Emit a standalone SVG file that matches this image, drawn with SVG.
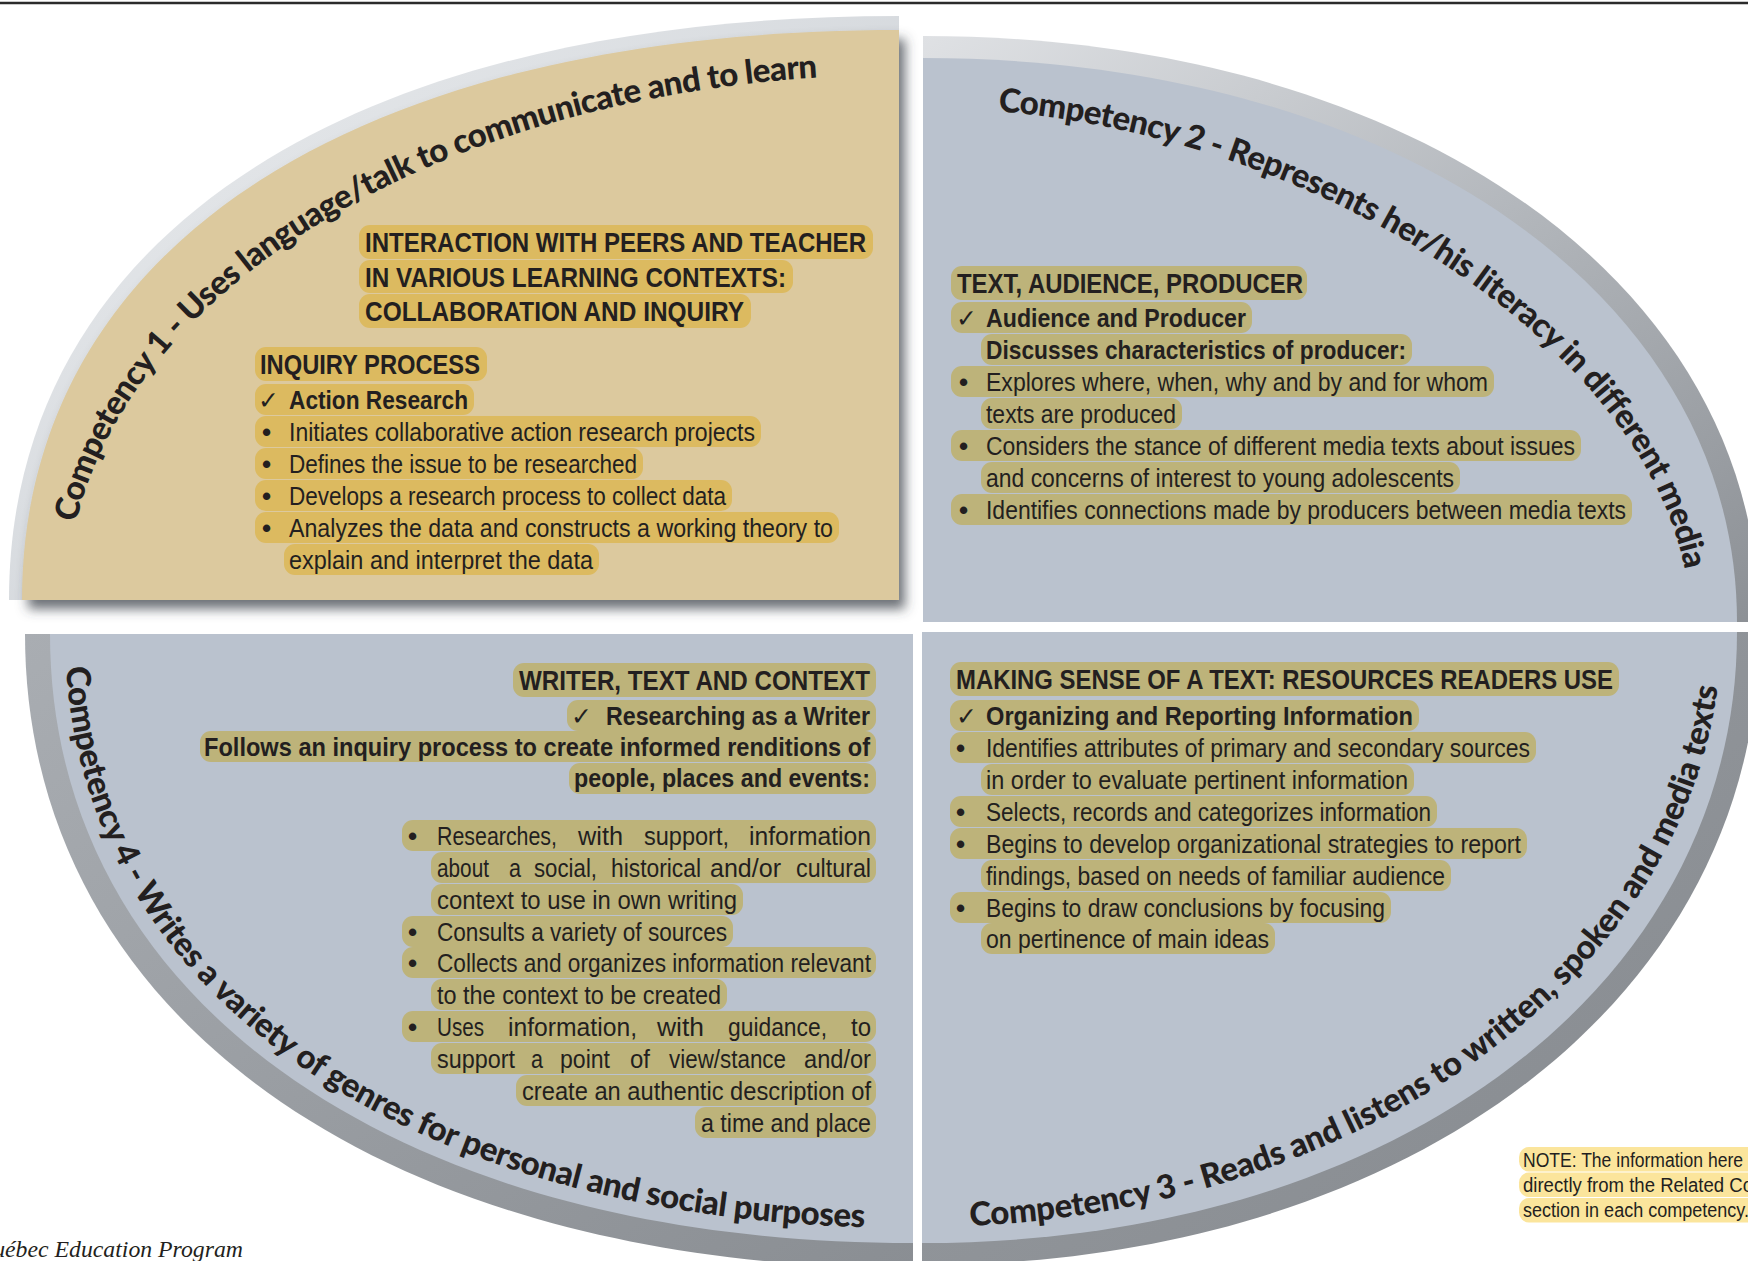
<svg xmlns="http://www.w3.org/2000/svg" xmlns:xlink="http://www.w3.org/1999/xlink" width="1748" height="1261" viewBox="0 0 1748 1261">
<defs>
<style>
.t{font-family:"Liberation Sans Narrow","Liberation Sans",Arial,sans-serif;font-size:26px;fill:#231f20}
.tb{font-weight:bold}
.cap{font-size:28px;font-weight:bold}
.ck{font-family:"DejaVu Sans",sans-serif;font-size:25px;font-weight:normal}
.bu{font-family:"Liberation Sans",Arial,sans-serif;font-weight:bold}
.cv{font-family:Lato,"Open Sans",sans-serif;font-weight:900;font-size:33px;fill:#231f20}
.hb{fill:#bdb37a}
.ht{fill:#dcba60}
.blue{fill:#bac2ce}
</style>
<linearGradient id="gUR" x1="0" y1="0" x2="1" y2="1">
<stop offset="0" stop-color="#dfe1e4"/><stop offset="0.5" stop-color="#b3b7bc"/><stop offset="1" stop-color="#8c9095"/>
</linearGradient>
<linearGradient id="gLR" x1="0" y1="0" x2="1" y2="1">
<stop offset="0" stop-color="#9a9ea3"/><stop offset="1" stop-color="#85898e"/>
</linearGradient>
<linearGradient id="gLL" x1="0" y1="0" x2="1" y2="1">
<stop offset="0" stop-color="#a9adb2"/><stop offset="1" stop-color="#8a8e93"/>
</linearGradient>
<linearGradient id="gUL" x1="0" y1="0" x2="1" y2="1">
<stop offset="0" stop-color="#eceef0"/><stop offset="1" stop-color="#c3c8ce"/>
</linearGradient>
<filter id="sh" x="-5%" y="-5%" width="115%" height="115%">
<feGaussianBlur in="SourceAlpha" stdDeviation="6"/>
<feOffset dx="6" dy="9" result="o"/>
<feFlood flood-color="#3c424a" flood-opacity="0.75"/>
<feComposite in2="o" operator="in"/>
<feMerge><feMergeNode/><feMergeNode in="SourceGraphic"/></feMerge>
</filter>
<path id="p1" d="M 67 600 A 832 525 0 0 1 899 75"/>
<path id="p2" d="M 923 108 C 1306.5 108 1690 365 1690 622"/>
<path id="p3" d="M 922 1227 A 799 595 0 0 0 1721 632"/>
<path id="p4" d="M 65 634 C 65 990.4 404.2 1228 913 1228"/>
</defs>
<rect width="1748" height="1261" fill="#ffffff"/>
<line x1="0" y1="3" x2="1748" y2="3" stroke="#2b2b2b" stroke-width="2.5"/>

<g id="competency2">
<path d="M 923 622 L 923 36 C 1408 36 1759 282 1759 622 Z" fill="url(#gUR)"/>
<path class="blue" d="M 923 622 L 923 58 C 1395 58 1737 295 1737 622 Z"/>
<text class="cv"><textPath href="#p2" startOffset="75" textLength="875">Competency 2 - Represents her/his literacy in different media</textPath></text>
<rect class="hb" x="951" y="266" width="356" height="34" rx="11"/>
<rect class="hb" x="951" y="302" width="301" height="31" rx="11"/>
<rect class="hb" x="981" y="334" width="431" height="31" rx="11"/>
<rect class="hb" x="951" y="366" width="543" height="31" rx="11"/>
<rect class="hb" x="981" y="398" width="201" height="31" rx="11"/>
<rect class="hb" x="951" y="430" width="630" height="31" rx="11"/>
<rect class="hb" x="981" y="462" width="479" height="31" rx="11"/>
<rect class="hb" x="951" y="494" width="681" height="31" rx="11"/>
<text class="t cap" x="957" y="293" textLength="346" lengthAdjust="spacingAndGlyphs">TEXT, AUDIENCE, PRODUCER</text>
<text class="t tb" y="327"><tspan class="ck" x="956">✓</tspan><tspan x="986" textLength="260" lengthAdjust="spacingAndGlyphs">Audience and Producer</tspan></text>
<text class="t tb" x="986" y="359" textLength="420" lengthAdjust="spacingAndGlyphs">Discusses characteristics of producer:</text>
<text class="t" y="391"><tspan class="bu" x="959">•</tspan><tspan x="986" textLength="502" lengthAdjust="spacingAndGlyphs">Explores where, when, why and by and for whom</tspan></text>
<text class="t" x="986" y="423" textLength="190" lengthAdjust="spacingAndGlyphs">texts are produced</text>
<text class="t" y="455"><tspan class="bu" x="959">•</tspan><tspan x="986" textLength="589" lengthAdjust="spacingAndGlyphs">Considers the stance of different media texts about issues</tspan></text>
<text class="t" x="986" y="487" textLength="468" lengthAdjust="spacingAndGlyphs">and concerns of interest to young adolescents</text>
<text class="t" y="519"><tspan class="bu" x="959">•</tspan><tspan x="986" textLength="640" lengthAdjust="spacingAndGlyphs">Identifies connections made by producers between media texts</tspan></text>
</g>

<g id="competency3">
<path d="M 922 632 L 1759 632 C 1759 999 1407 1265 922 1265 Z" fill="url(#gLR)"/>
<path class="blue" d="M 922 632 L 1737 632 C 1737 986 1395 1243 922 1243 Z"/>
<text class="cv"><textPath href="#p3" startOffset="48" textLength="998">Competency 3 - Reads and listens to written, spoken and media texts</textPath></text>
<rect class="hb" x="950" y="662" width="669" height="34" rx="11"/>
<rect class="hb" x="950" y="700" width="469" height="31" rx="11"/>
<rect class="hb" x="950" y="732" width="586" height="31" rx="11"/>
<rect class="hb" x="981" y="764" width="433" height="31" rx="11"/>
<rect class="hb" x="950" y="796" width="487" height="31" rx="11"/>
<rect class="hb" x="950" y="828" width="577" height="31" rx="11"/>
<rect class="hb" x="981" y="860" width="470" height="31" rx="11"/>
<rect class="hb" x="950" y="892" width="441" height="31" rx="11"/>
<rect class="hb" x="981" y="923" width="294" height="31" rx="11"/>
<text class="t cap" x="956" y="689" textLength="657" lengthAdjust="spacingAndGlyphs">MAKING SENSE OF A TEXT: RESOURCES READERS USE</text>
<text class="t tb" y="725"><tspan class="ck" x="956">✓</tspan><tspan x="986" textLength="427" lengthAdjust="spacingAndGlyphs">Organizing and Reporting Information</tspan></text>
<text class="t" y="757"><tspan class="bu" x="956">•</tspan><tspan x="986" textLength="544" lengthAdjust="spacingAndGlyphs">Identifies attributes of primary and secondary sources</tspan></text>
<text class="t" x="986" y="789" textLength="422" lengthAdjust="spacingAndGlyphs">in order to evaluate pertinent information</text>
<text class="t" y="821"><tspan class="bu" x="956">•</tspan><tspan x="986" textLength="445" lengthAdjust="spacingAndGlyphs">Selects, records and categorizes information</tspan></text>
<text class="t" y="853"><tspan class="bu" x="956">•</tspan><tspan x="986" textLength="535" lengthAdjust="spacingAndGlyphs">Begins to develop organizational strategies to report</tspan></text>
<text class="t" x="986" y="885" textLength="459" lengthAdjust="spacingAndGlyphs">findings, based on needs of familiar audience</text>
<text class="t" y="917"><tspan class="bu" x="956">•</tspan><tspan x="986" textLength="399" lengthAdjust="spacingAndGlyphs">Begins to draw conclusions by focusing</tspan></text>
<text class="t" x="986" y="948" textLength="283" lengthAdjust="spacingAndGlyphs">on pertinence of main ideas</text>
</g>

<g id="competency4">
<path d="M 913 634 L 25 634 C 25 1014 380 1268 913 1268 Z" fill="url(#gLL)"/>
<path class="blue" d="M 913 634 L 50 634 C 50 999 395 1243 913 1243 Z"/>
<text class="cv"><textPath href="#p4" startOffset="33" textLength="1075">Competency 4 - Writes a variety of genres for personal and social purposes</textPath></text>
<rect class="hb" x="513" y="663" width="363" height="34" rx="11"/>
<rect class="hb" x="567" y="700" width="309" height="31" rx="11"/>
<rect class="hb" x="200" y="731" width="676" height="31" rx="11"/>
<rect class="hb" x="569" y="763" width="307" height="31" rx="11"/>
<rect class="hb" x="402" y="820" width="474" height="31" rx="11"/>
<rect class="hb" x="431" y="852" width="445" height="31" rx="11"/>
<rect class="hb" x="431" y="884" width="312" height="31" rx="11"/>
<rect class="hb" x="402" y="916" width="331" height="31" rx="11"/>
<rect class="hb" x="402" y="947" width="474" height="31" rx="11"/>
<rect class="hb" x="431" y="979" width="296" height="31" rx="11"/>
<rect class="hb" x="402" y="1011" width="474" height="31" rx="11"/>
<rect class="hb" x="431" y="1043" width="445" height="31" rx="11"/>
<rect class="hb" x="516" y="1075" width="360" height="31" rx="11"/>
<rect class="hb" x="695" y="1107" width="181" height="31" rx="11"/>
<text class="t cap" x="519" y="690" textLength="351" lengthAdjust="spacingAndGlyphs">WRITER, TEXT AND CONTEXT</text>
<text class="t tb" y="725"><tspan class="ck" x="571">✓</tspan><tspan x="606" textLength="264" lengthAdjust="spacingAndGlyphs">Researching as a Writer</tspan></text>
<text class="t tb" x="204" y="756" textLength="666" lengthAdjust="spacingAndGlyphs">Follows an inquiry process to create informed renditions of</text>
<text class="t tb" x="574" y="787" textLength="296" lengthAdjust="spacingAndGlyphs">people, places and events:</text>
<text class="t" y="845"><tspan class="bu" x="408">•</tspan><tspan x="437" textLength="120" lengthAdjust="spacingAndGlyphs">Researches,</tspan><tspan x="578" textLength="45" lengthAdjust="spacingAndGlyphs">with</tspan><tspan x="644" textLength="85" lengthAdjust="spacingAndGlyphs">support,</tspan><tspan x="749" textLength="122" lengthAdjust="spacingAndGlyphs">information</tspan></text>
<text class="t" y="877"><tspan x="437" textLength="52" lengthAdjust="spacingAndGlyphs">about</tspan><tspan x="509" textLength="12" lengthAdjust="spacingAndGlyphs">a</tspan><tspan x="534" textLength="63" lengthAdjust="spacingAndGlyphs">social,</tspan><tspan x="611" textLength="90" lengthAdjust="spacingAndGlyphs">historical</tspan><tspan x="710" textLength="71" lengthAdjust="spacingAndGlyphs">and/or</tspan><tspan x="796" textLength="75" lengthAdjust="spacingAndGlyphs">cultural</tspan></text>
<text class="t" x="437" y="909" textLength="300" lengthAdjust="spacingAndGlyphs">context to use in own writing</text>
<text class="t" y="941"><tspan class="bu" x="408">•</tspan><tspan x="437" textLength="290" lengthAdjust="spacingAndGlyphs">Consults a variety of sources</tspan></text>
<text class="t" y="972"><tspan class="bu" x="408">•</tspan><tspan x="437" textLength="434" lengthAdjust="spacingAndGlyphs">Collects and organizes information relevant</tspan></text>
<text class="t" x="437" y="1004" textLength="284" lengthAdjust="spacingAndGlyphs">to the context to be created</text>
<text class="t" y="1036"><tspan class="bu" x="408">•</tspan><tspan x="437" textLength="47" lengthAdjust="spacingAndGlyphs">Uses</tspan><tspan x="508" textLength="129" lengthAdjust="spacingAndGlyphs">information,</tspan><tspan x="657" textLength="47" lengthAdjust="spacingAndGlyphs">with</tspan><tspan x="728" textLength="99" lengthAdjust="spacingAndGlyphs">guidance,</tspan><tspan x="851" textLength="20" lengthAdjust="spacingAndGlyphs">to</tspan></text>
<text class="t" y="1068"><tspan x="437" textLength="78" lengthAdjust="spacingAndGlyphs">support</tspan><tspan x="531" textLength="12" lengthAdjust="spacingAndGlyphs">a</tspan><tspan x="560" textLength="50" lengthAdjust="spacingAndGlyphs">point</tspan><tspan x="630" textLength="20" lengthAdjust="spacingAndGlyphs">of</tspan><tspan x="669" textLength="117" lengthAdjust="spacingAndGlyphs">view/stance</tspan><tspan x="804" textLength="67" lengthAdjust="spacingAndGlyphs">and/or</tspan></text>
<text class="t" x="522" y="1100" textLength="349" lengthAdjust="spacingAndGlyphs">create an authentic description of</text>
<text class="t" x="701" y="1132" textLength="170" lengthAdjust="spacingAndGlyphs">a time and place</text>
</g>

<g id="competency1">
<path d="M 899 600 L 9 600 C 9 238 347 16 899 16 Z" fill="url(#gUL)"/>
<path d="M 899 600 L 22 600 C 22 247 355 30 899 30 Z" fill="#dcc99e" filter="url(#sh)"/>
<text class="cv"><textPath href="#p1" startOffset="78" textLength="920">Competency 1 - Uses language/talk to communicate and to learn</textPath></text>
<rect class="ht" x="359" y="225" width="514" height="34" rx="11"/>
<rect class="ht" x="359" y="260" width="434" height="33" rx="11"/>
<rect class="ht" x="359" y="294" width="392" height="34" rx="11"/>
<rect class="ht" x="255" y="347" width="232" height="34" rx="11"/>
<rect class="ht" x="255" y="384" width="219" height="31" rx="11"/>
<rect class="ht" x="255" y="416" width="506" height="31" rx="11"/>
<rect class="ht" x="255" y="448" width="388" height="31" rx="11"/>
<rect class="ht" x="255" y="480" width="477" height="31" rx="11"/>
<rect class="ht" x="255" y="512" width="584" height="31" rx="11"/>
<rect class="ht" x="284" y="544" width="315" height="31" rx="11"/>
<text class="t cap" x="365" y="252" textLength="501" lengthAdjust="spacingAndGlyphs">INTERACTION WITH PEERS AND TEACHER</text>
<text class="t cap" x="365" y="286.5" textLength="421" lengthAdjust="spacingAndGlyphs">IN VARIOUS LEARNING CONTEXTS:</text>
<text class="t cap" x="365" y="321" textLength="379" lengthAdjust="spacingAndGlyphs">COLLABORATION AND INQUIRY</text>
<text class="t cap" x="260" y="374" textLength="220" lengthAdjust="spacingAndGlyphs">INQUIRY PROCESS</text>
<text class="t tb" y="409"><tspan class="ck" x="258">✓</tspan><tspan x="289" textLength="179" lengthAdjust="spacingAndGlyphs">Action Research</tspan></text>
<text class="t" y="441"><tspan class="bu" x="262">•</tspan><tspan x="289" textLength="466" lengthAdjust="spacingAndGlyphs">Initiates collaborative action research projects</tspan></text>
<text class="t" y="473"><tspan class="bu" x="262">•</tspan><tspan x="289" textLength="348" lengthAdjust="spacingAndGlyphs">Defines the issue to be researched</tspan></text>
<text class="t" y="505"><tspan class="bu" x="262">•</tspan><tspan x="289" textLength="437" lengthAdjust="spacingAndGlyphs">Develops a research process to collect data</tspan></text>
<text class="t" y="537"><tspan class="bu" x="262">•</tspan><tspan x="289" textLength="544" lengthAdjust="spacingAndGlyphs">Analyzes the data and constructs a working theory to</tspan></text>
<text class="t" x="289" y="569" textLength="304" lengthAdjust="spacingAndGlyphs">explain and interpret the data</text>
</g>

<g id="note">
<rect x="1519" y="1147" width="240" height="24.5" rx="10" fill="#fbe59c"/>
<rect x="1519" y="1172.5" width="240" height="24.5" rx="10" fill="#fbe59c"/>
<rect x="1519" y="1198" width="240" height="24.5" rx="10" fill="#fbe59c"/>
<text class="t" style="font-size:20px" x="1523" y="1167" textLength="220" lengthAdjust="spacingAndGlyphs">NOTE: The information here</text>
<text class="t" style="font-size:20px" x="1523" y="1192" textLength="230" lengthAdjust="spacingAndGlyphs">directly from the Related Co</text>
<text class="t" style="font-size:20px" x="1523" y="1217" textLength="226" lengthAdjust="spacingAndGlyphs">section in each competency.</text>
</g>

<g id="footer">
<text x="-24" y="1257" textLength="267" lengthAdjust="spacingAndGlyphs" style="font-family:'Liberation Serif','Times New Roman',serif;font-style:italic;font-size:23px;fill:#231f20">Québec Education Program</text>
</g>
</svg>
